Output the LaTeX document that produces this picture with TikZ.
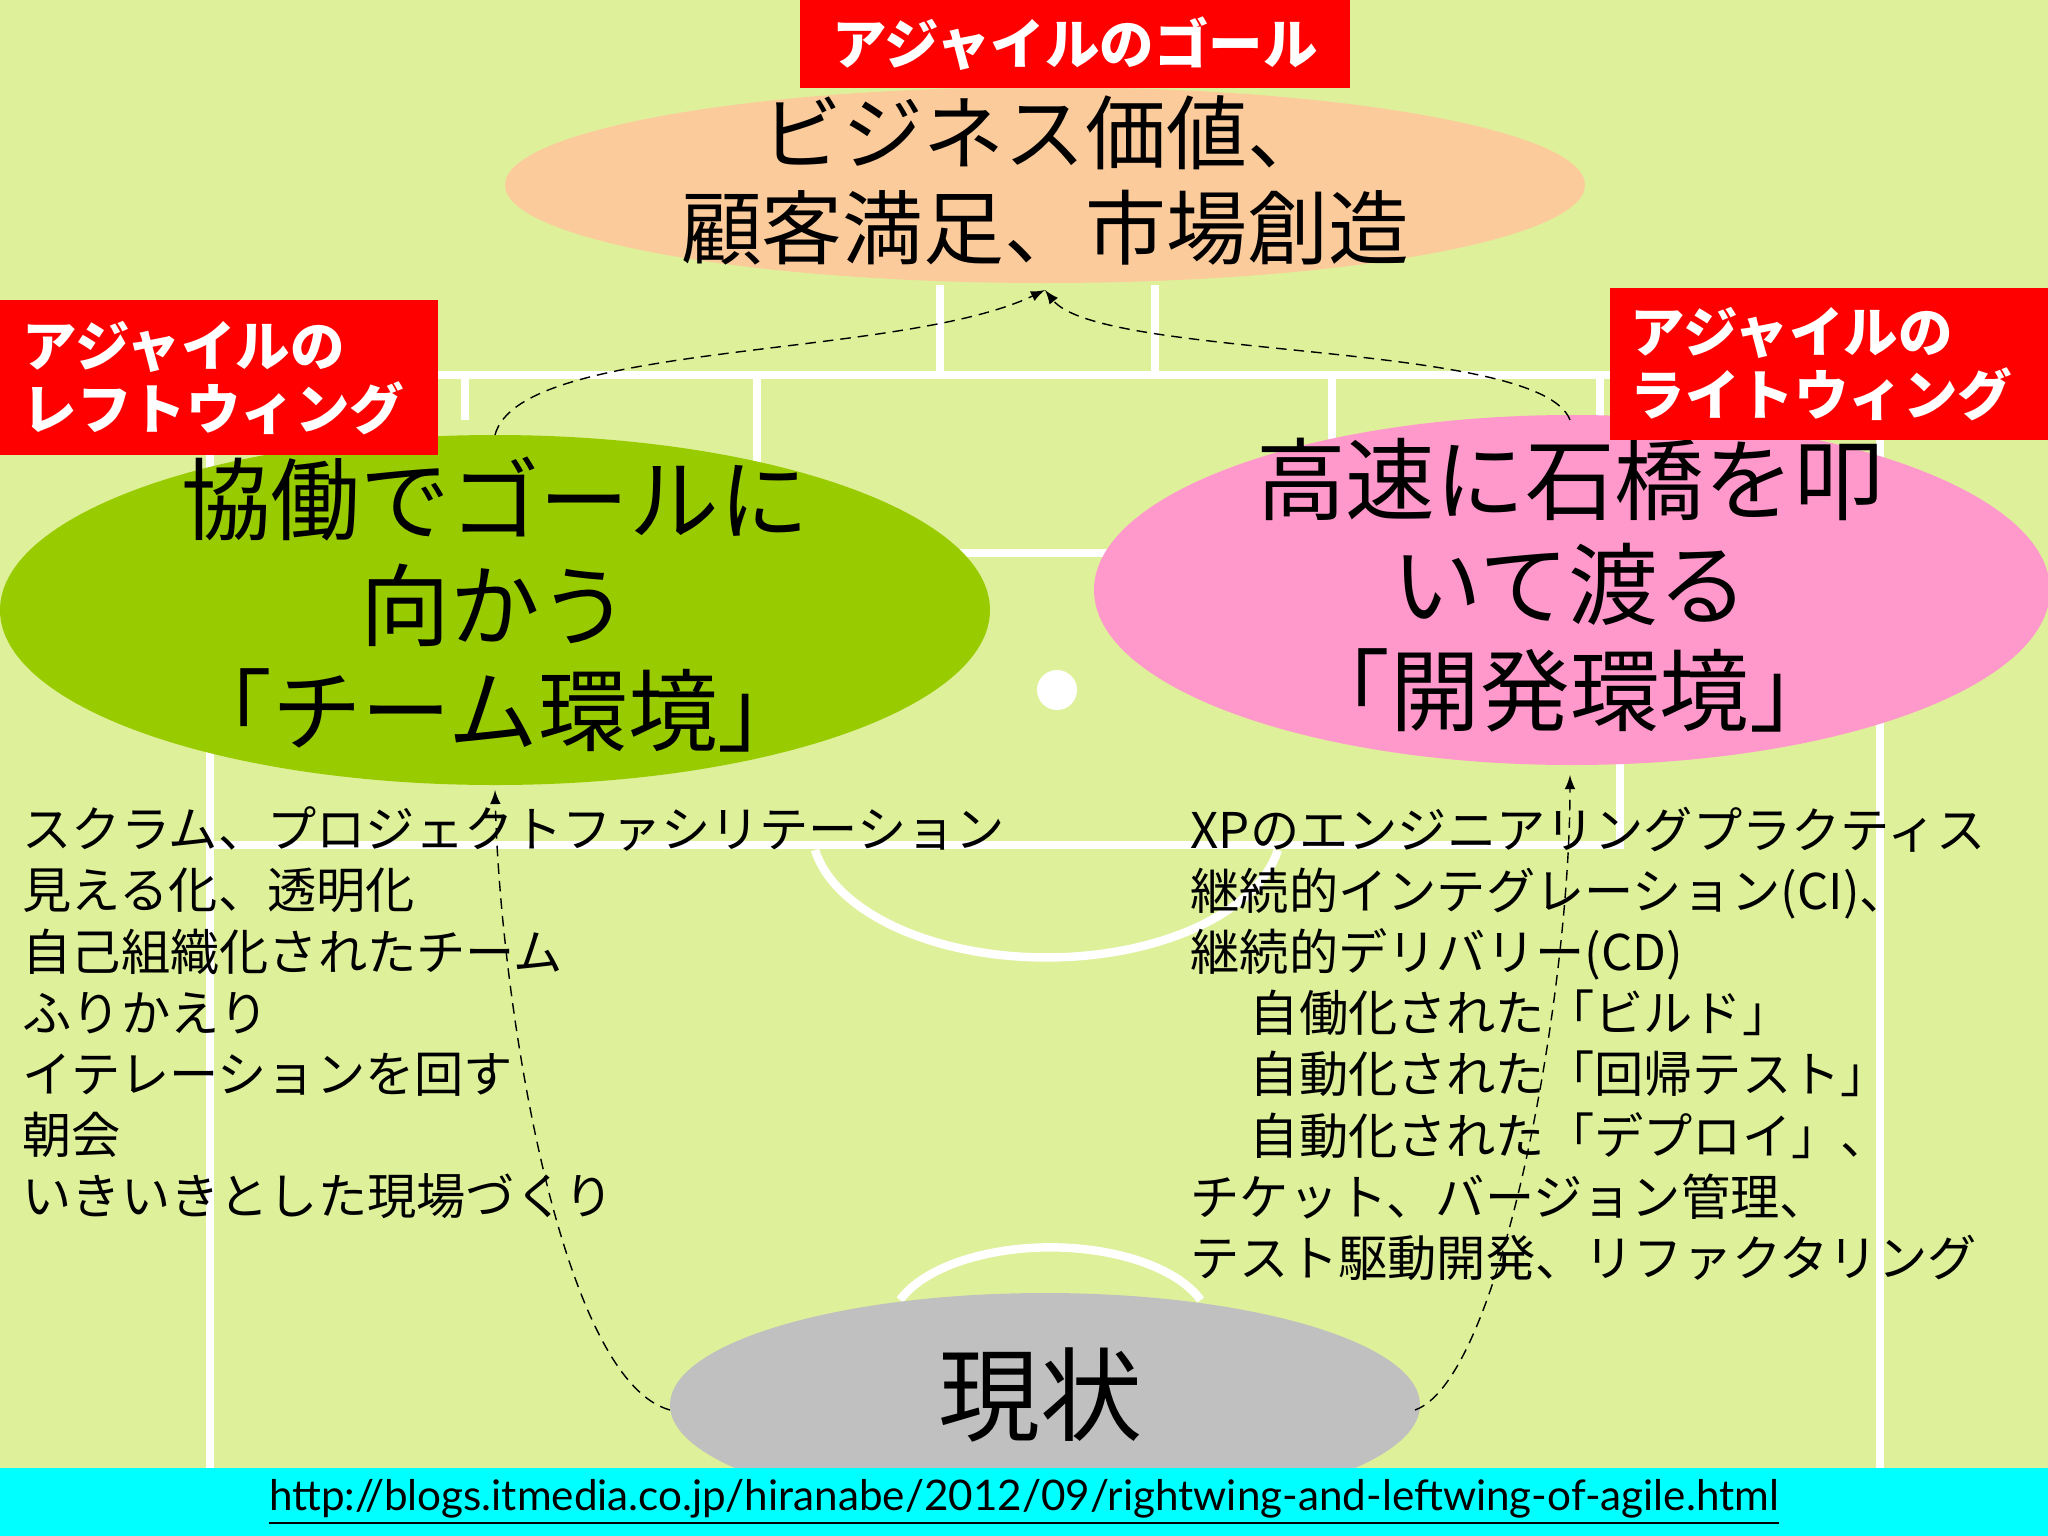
\documentclass[tikz,border=0pt]{standalone}
\usepackage{fontspec}
\setmainfont{Noto Sans CJK JP}
\newfontfamily\urlfont{Lato}
\begin{document}
\begin{tikzpicture}[x=0.01cm,y=-0.01cm,
  field/.style={white,line width=2.4pt},
  redlab/.style={text=white,font=\bfseries\fontsize{15.5}{18}\selectfont,align=left,inner sep=0pt},
  big/.style={font=\fontsize{23}{27}\selectfont,align=center},
  lst/.style={anchor=north west,align=left,font=\fontsize{14}{17.4}\selectfont,inner sep=0pt},
  darr/.style={densely dashed,thin,-latex}]
\fill[fill={rgb,255:red,223;green,240;blue,154}] (0,0) rectangle (2048,1536);
\useasboundingbox (0,0) rectangle (2048,1536);
% field
\draw[field] (210,1470) -- (210,375) -- (1880,375) -- (1880,1470);
\draw[field] (465,375) -- (465,420); \draw[field] (1600,375) -- (1600,420);
\draw[field] (940,285) -- (940,375); \draw[field] (1155,285) -- (1155,375);
\draw[field] (757,375) -- (757,553) -- (1332,553) -- (1332,375);
\draw[field] (210,845) -- (1620,845) -- (1620,375);
\draw[field] (815,850) arc[start angle=170,end angle=10,x radius=235,y radius=130];
\fill[white] (1057,690) circle (20);
\draw[field] (900,1300) arc[start angle=200,end angle=340,x radius=160,y radius=80];
% ellipses
\fill[fill={rgb,255:red,252;green,203;blue,156}] (1045,185) ellipse[x radius=540,y radius=98];
\fill[fill={rgb,255:red,153;green,204;blue,0}] (495,610) ellipse[x radius=495,y radius=175];
\fill[fill={rgb,255:red,255;green,153;blue,204}] (1572,590) ellipse[x radius=478,y radius=175];
\fill[fill={rgb,255:red,192;green,192;blue,192}] (1045,1405) ellipse[x radius=375,y radius=112];
\node[big] (goal) at (1045,180) {ビジネス価値、\\顧客満足、市場創造};
\node[big,font=\fontsize{25.5}{30}\selectfont] (left) at (495,605) {協働でゴールに\\向かう\\「チーム環境」};
\node[big,font=\fontsize{25.5}{30}\selectfont] (right) at (1570,585) {高速に石橋を叩\\いて渡る\\「開発環境」};
\node[big,font=\fontsize{29}{32}\selectfont] (now) at (1040,1395) {現状};
% labels
\fill[red] (800,0) rectangle (1350,88);
\fill[red] (0,300) rectangle (438,455);
\fill[red] (1610,288) rectangle (2048,440);
\node[redlab] (t1) at (1075,44) {アジャイルのゴール};
\node[redlab,anchor=west] (t2) at (22,378) {アジャイルの\\レフトウィング};
\node[redlab,anchor=west] (t3) at (1630,364) {アジャイルの\\ライトウィング};
% lists
\node[lst] (l1) at (22,806) {スクラム、プロジェクトファシリテーション\\見える化、透明化\\自己組織化されたチーム\\ふりかえり\\イテレーションを回す\\朝会\\いきいきとした現場づくり};
\node[lst] (l2) at (1190,806) {XPのエンジニアリングプラクティス\\継続的インテグレーション(CI)、\\継続的デリバリー(CD)\\\hspace*{1.2em}自働化された「ビルド」\\\hspace*{1.2em}自動化された「回帰テスト」\\\hspace*{1.2em}自動化された「デプロイ」、\\チケット、バージョン管理、\\テスト駆動開発、リファクタリング};
% arrows
\coordinate (gt) at (1045,290);
\draw[darr] (495,435) .. controls (520,340) and (900,360) .. (gt);
\draw[darr] (1570,420) .. controls (1540,340) and (1100,360) .. (gt);
\draw[darr] (670,1410) .. controls (560,1380) and (500,1000) .. (495,790);
\draw[darr] (1415,1410) .. controls (1500,1380) and (1570,1000) .. (1570,775);
% url bar
\fill[fill={rgb,255:red,0;green,255;blue,255}] (0,1468) rectangle (2048,1536);
\node[font=\urlfont\fontsize{12}{14}\selectfont] (url) at (1024,1502) {\underline{http://blogs.itmedia.co.jp/hiranabe/2012/09/rightwing-and-leftwing-of-agile.html}};
\end{tikzpicture}
\end{document}
